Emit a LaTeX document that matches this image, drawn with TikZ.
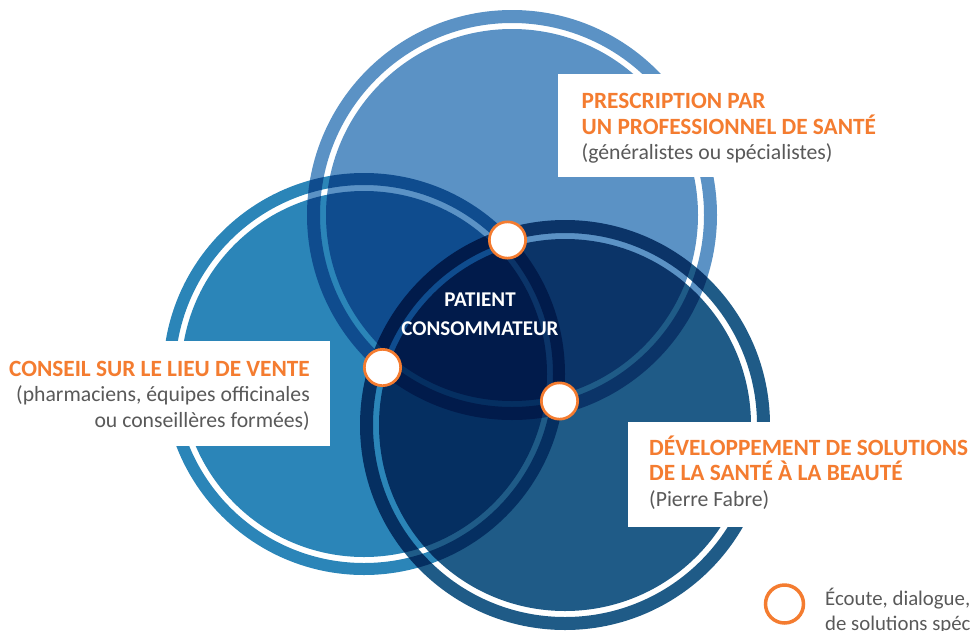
\documentclass[tikz,border=0pt]{standalone}
\usepackage{fontspec}
\setmainfont{Carlito}
\usepackage{xcolor}
\definecolor{prescr}{RGB}{91,146,197}
\definecolor{conseil}{RGB}{43,133,184}
\definecolor{devel}{RGB}{31,91,135}
\definecolor{accent}{RGB}{244,124,48}
\definecolor{grisTxt}{RGB}{89,89,89}
\tikzset{
  disc/.style={even odd rule,blend mode=multiply},
  head/.style={font=\bfseries\fontsize{23.3}{26}\selectfont,text=accent,inner sep=0pt},
  sub/.style={font=\fontsize{21.7}{26}\selectfont,text=grisTxt,inner sep=0pt},
  legtext/.style={sub,font=\fontsize{20.8}{26}\selectfont,anchor=base west},
  centre/.style={font=\bfseries\fontsize{21}{25}\selectfont,text=white,inner sep=0pt,anchor=base},
  knot/.style={circle,draw=accent,fill=white,line width=2.7pt,minimum size=36.3pt,inner sep=0pt},
}

\begin{document}
\begin{tikzpicture}[x=1pt,y=-1pt]
      \useasboundingbox (0,0) rectangle (972,630);
      \clip (0,0) rectangle (972,630);
      %% les trois cercles
      \fill[disc,prescr] (512,215) circle (205) (512,215) circle (192) (512,215) circle (186);
      \fill[disc,conseil] (364,374) circle (201) (364,374) circle (189) (364,374) circle (183);
      \fill[disc,devel] (565,425) circle (205) (565,425) circle (192) (565,425) circle (186);
      %%
      \node[centre](P) at (480,306.5) {PATIENT};
      \node[centre](C) at (480,335) {CONSOMMATEUR};
      \node[knot](K1) at (507.5,240) {};
      \node[knot](K2) at (382.5,367.5) {};
      \node[knot](K3) at (559.5,401) {};
      %% prescription
      \fill[white] (558,74) rectangle (972,177);
      \node[head,anchor=base west](PR1) at (581.5,108.5) {PRESCRIPTION PAR};
      \node[head,anchor=base west](PR2) at (581.5,134) {UN PROFESSIONNEL DE SANTÉ};
      \node[sub,anchor=base west](PR3) at (581.5,159.5) {(généralistes ou spécialistes)};
      %% conseil
      \fill[white] (0,341) rectangle (330,446);
      \node[head,anchor=base east](CO1) at (310,376) {CONSEIL SUR LE LIEU DE VENTE};
      \node[sub,anchor=base east](CO2) at (310,401.5) {(pharmaciens, équipes officinales};
      \node[sub,anchor=base east](CO3) at (310,427) {ou conseillères formées)};
      %% developpement
      \fill[white] (628,422) rectangle (972,526.5);
      \node[head,anchor=base west](DE1) at (649,455) {DÉVELOPPEMENT DE SOLUTIONS};
      \node[head,anchor=base west](DE2) at (649,480.5) {DE LA SANTÉ À LA BEAUTÉ};
      \node[sub,anchor=base west](DE3) at (649,506) {(Pierre Fabre)};
      %% legende
      \node[knot,fill=none,line width=3.5pt,minimum size=38pt](L) at (784.5,604) {};
      \node[legtext](L1) at (825,605) {Écoute, dialogue,};
      \node[legtext](L2) at (825,630.5) {de solutions spéc};
\end{tikzpicture}
\end{document}
